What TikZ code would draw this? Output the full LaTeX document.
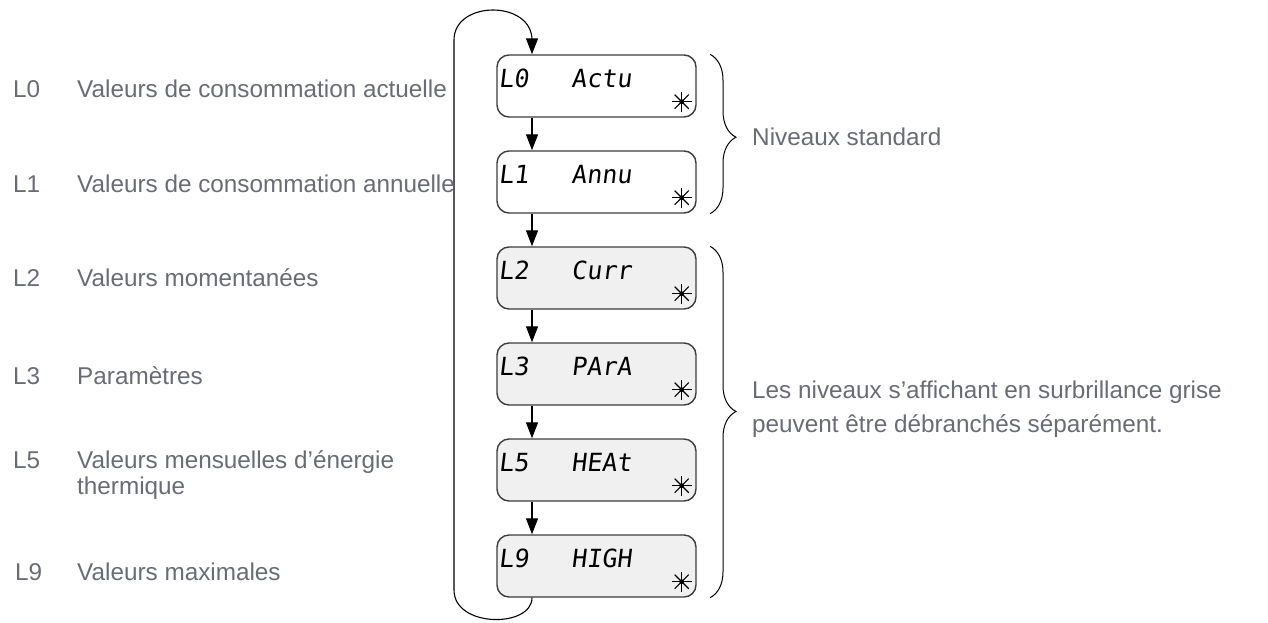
\documentclass[tikz,border=0pt]{standalone}
\usepackage{fontspec}
\setmainfont{Liberation Sans}
\newfontfamily\lcdfont[FakeSlant=0.12]{DejaVu Sans Mono}
\usetikzlibrary{arrows.meta,decorations.pathreplacing}

\definecolor{labelgray}{RGB}{105,108,116}
\definecolor{panelgray}{RGB}{240,240,240}
\definecolor{framegray}{RGB}{60,60,60}

% blinking mark in the lower right corner of a display
\newcommand{\blinkmark}[1]{%
  \fill ([xshift=-15pt,yshift=16pt]#1.south east) circle (2.4pt);
  \foreach \a in {0,45,...,315}
    \draw[line width=1.1pt] ([xshift=-15pt,yshift=16pt]#1.south east) -- ++(\a:10);}

\begin{document}
\begin{tikzpicture}[x=1pt,y=-1pt,
  display/.style={draw=framegray, line width=1.4pt, rounded corners=12pt,
                  minimum width=199pt, minimum height=62pt, inner sep=0pt},
  lcd/.style={anchor=base west, inner sep=0pt, font=\lcdfont\fontsize{25}{25}\selectfont},
  desc/.style={anchor=base west, inner sep=0pt, text=labelgray, font=\fontsize{24.3}{28}\selectfont},
  flow/.style={-{Triangle[length=16pt,width=12pt]}, line width=1.1pt},
  grp/.style={decorate, decoration={brace, amplitude=26pt, aspect=#1}, line width=1pt}]
\useasboundingbox (0,0) rectangle (1268,622);
\coordinate (col) at (532,0);
\coordinate (brx) at (710,0);

% displays
\node[display] (lvl0) at (596.5,86) {};
\node[display] (lvl1) at (596.5,182) {};
\node[display, fill=panelgray] (lvl2) at (596.5,278) {};
\node[display, fill=panelgray] (lvl3) at (596.5,374) {};
\node[display, fill=panelgray] (lvl5) at (596.5,470) {};
\node[display, fill=panelgray] (lvl9) at (596.5,566) {};

\node[lcd] (d0) at ([xshift=2pt,yshift=-33pt]lvl0.north west) {\makebox[73pt][l]{L0}Actu};
\node[lcd] (d1) at ([xshift=2pt,yshift=-33pt]lvl1.north west) {\makebox[73pt][l]{L1}Annu};
\node[lcd] (d2) at ([xshift=2pt,yshift=-33pt]lvl2.north west) {\makebox[73pt][l]{L2}Curr};
\node[lcd] (d3) at ([xshift=2pt,yshift=-33pt]lvl3.north west) {\makebox[73pt][l]{L3}PArA};
\node[lcd] (d5) at ([xshift=2pt,yshift=-33pt]lvl5.north west) {\makebox[73pt][l]{L5}HEAt};
\node[lcd] (d9) at ([xshift=2pt,yshift=-33pt]lvl9.north west) {\makebox[73pt][l]{L9}HIGH};

\blinkmark{lvl0}
\blinkmark{lvl1}
\blinkmark{lvl2}
\blinkmark{lvl3}
\blinkmark{lvl5}
\blinkmark{lvl9}

% flow between levels
\draw[flow] (lvl0.south -| col) -- (lvl1.north -| col);
\draw[flow] (lvl1.south -| col) -- (lvl2.north -| col);
\draw[flow] (lvl2.south -| col) -- (lvl3.north -| col);
\draw[flow] (lvl3.south -| col) -- (lvl5.north -| col);
\draw[flow] (lvl5.south -| col) -- (lvl9.north -| col);
\draw[flow] (lvl9.south -| col) .. controls (532,628) and (454,628) .. (454,590)
  -- (454,40) .. controls (454,0) and (532,0) .. (532,40) -- (lvl0.north -| col);

% level names
\node[desc] (n0) at (13,97) {L0};
\node[desc] (v0) at (77,97) {Valeurs de consommation actuelle};
\node[desc] (n1) at (13,192) {L1};
\node[desc] (v1) at (77,192) {Valeurs de consommation annuelle};
\node[desc] (n2) at (13,286) {L2};
\node[desc] (v2) at (77,286) {Valeurs momentanées};
\node[desc] (n3) at (13,384) {L3};
\node[desc] (v3) at (77,384) {Paramètres};
\node[desc] (n5) at (13,468) {L5};
\node[desc] (v5) at (77,468) {Valeurs mensuelles d’énergie};
\node[desc] (v5b) at (77,494) {thermique};
\node[desc] (n9) at (15,580) {L9};
\node[desc] (v9) at (77,580) {Valeurs maximales};

% groups
\draw[grp=0.52] (lvl0.north -| brx) -- (lvl1.south -| brx);
\draw[grp=0.47] (lvl2.north -| brx) -- (lvl9.south -| brx);
\node[desc] (std) at (752,145) {Niveaux standard};
\node[desc] (opt1) at (752,398) {Les niveaux s’affichant en surbrillance grise};
\node[desc] (opt2) at (752,432) {peuvent être débranchés séparément.};
\end{tikzpicture}
\end{document}
